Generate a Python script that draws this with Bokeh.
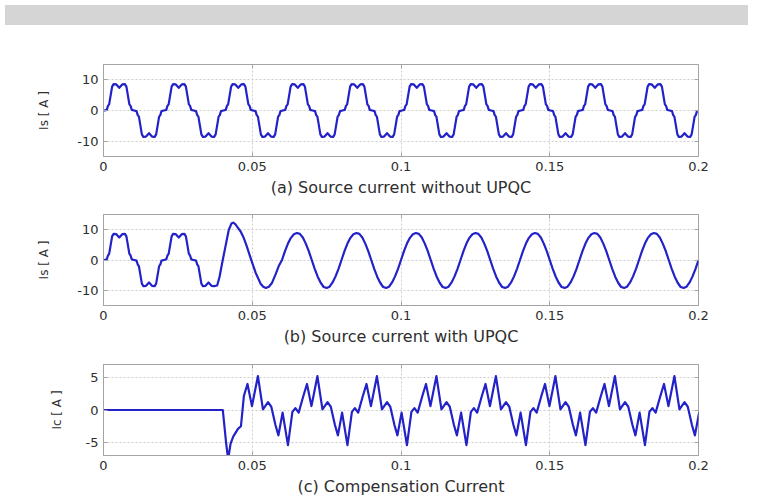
from bokeh.plotting import figure
from bokeh.models import FixedTicker, Range1d, Div, ColumnDataSource, LinearAxis
from bokeh.layouts import column
from bokeh.embed import file_html
from bokeh.resources import INLINE

# ---------------- data ----------------
x_ticks = [0, 0.05, 0.1, 0.15, 0.2]
x_tick_labels = ["0", "0.05", "0.1", "0.15", "0.2"]
is_ticks = [-10, 0, 10]
is_tick_labels = ["-10", "0", "10"]
ic_ticks = [-5, 0, 5]
ic_tick_labels = ["-5", "0", "5"]
titles = ["(a) Source current without UPQC",
          "(b) Source current with UPQC",
          "(c) Compensation Current"]
y_labels = ["Is [ A ]", "Is [ A ]", "Ic [ A ]"]

# (a) distorted load current: one half cycle, measured from the centre of a zero ledge
half_period = 0.01
first_ledge = 0.0003
n_halves = 20
load_half_offset = [0.0000, 0.0008, 0.0012, 0.0016, 0.0026, 0.0031, 0.0040,
                    0.0050, 0.0060, 0.0069, 0.0074, 0.0084, 0.0088, 0.0092]
load_half_value = [0.0, 0.2, 1.5, 2.0, 7.8, 8.6, 8.5,
                   7.4, 8.5, 8.6, 7.8, 2.0, 1.5, 0.2]

# (b) source current with UPQC: load current until switch-on, transient, then sinusoid
b_switch_time = 0.0373
b_transient_t = [0.0382, 0.0390, 0.0399, 0.0410, 0.0421, 0.0430, 0.0436, 0.0443,
                 0.0452, 0.0461, 0.0470, 0.0480, 0.0494, 0.0511, 0.0528, 0.0537,
                 0.0546, 0.0556, 0.0566, 0.0578, 0.0590]
b_transient_v = [-8.4, -5.6, -0.9, 4.5, 9.9, 12.0, 12.3, 11.8,
                 10.6, 9.4, 7.6, 5.0, 0.8, -4.1, -7.8, -8.8,
                 -9.2, -8.8, -7.6, -4.8, -1.8]
b_steady_start = 0.06
b_cycle_step = 0.001
n_b_cycles = 7
b_cycle_v = [0.0, 2.9, 5.4, 7.3, 8.5, 8.9, 8.6, 7.4, 5.4, 2.9,
             0.0, -2.9, -5.5, -7.5, -8.9, -9.2, -8.8, -7.4, -5.4, -2.9]
b_end_v = 0.0

# (c) compensation current: zero until switch-on, transient, then repeating cycle
period = 0.02
c_transient_t = [0.0, 0.0401, 0.0412, 0.0419, 0.0427, 0.0436, 0.0452, 0.0462]
c_transient_v = [0.0, 0.0, -5.0, -7.6, -5.2, -4.1, -2.9, -2.5]
c_steady_from = 0.0470
c_first_cycle, c_last_cycle = 2, 10
c_cycle_phase = [0.0002, 0.0020, 0.0035, 0.0045, 0.0056, 0.0072, 0.0084,
                 0.0099, 0.0119, 0.0136, 0.0153, 0.0164, 0.0178, 0.0188]
c_cycle_value = [-0.4, -5.4, -0.3, 0.3, -0.4, 2.2, 4.0,
                 0.6, 5.2, 0.1, 1.2, 0.5, -2.3, -3.9]

# ---------------- build series ----------------
ta, va = [0.0], [0.0]
for k in range(n_halves):
    sgn = 1 if k % 2 == 0 else -1
    for o, a in zip(load_half_offset, load_half_value):
        ta.append(first_ledge + k * half_period + o)
        va.append(sgn * a)

tb = [t for t in ta if t <= b_switch_time]
vb = [v for t, v in zip(ta, va) if t <= b_switch_time]
tb += b_transient_t
vb += b_transient_v
for j in range(n_b_cycles):
    for i, val in enumerate(b_cycle_v):
        tb.append(b_steady_start + j * period + i * b_cycle_step)
        vb.append(val)
tb.append(0.2)
vb.append(b_end_v)

tc, vc = list(c_transient_t), list(c_transient_v)
for k in range(c_first_cycle, c_last_cycle + 1):
    for ph, val in zip(c_cycle_phase, c_cycle_value):
        t = k * period + ph
        if t >= c_steady_from:
            tc.append(t)
            vc.append(val)

# ---------------- styling ----------------
FONT = "DejaVu Sans"
TXT = "#2e2e2e"
GREY = "#a4a4a4"
LINE = "#2222c8"


def make_fig(height, top, bottom, ylab_standoff, yr, yt, ylabs, ylab, title, t, v):
    p = figure(width=743, height=height, x_range=Range1d(0, 0.2), y_range=Range1d(*yr),
               output_backend="svg", toolbar_location=None,
               min_border_left=103, min_border_right=45,
               min_border_top=top, min_border_bottom=bottom)
    p.background_fill_color = "white"
    p.border_fill_color = "white"
    p.outline_line_color = GREY
    p.outline_line_width = 1

    xt = FixedTicker(ticks=x_ticks)
    ytk = FixedTicker(ticks=yt)
    xa = p.xaxis[0]
    ya = p.yaxis[0]
    xa.ticker = xt
    ya.ticker = ytk
    p.xgrid.ticker = xt
    p.ygrid.ticker = ytk
    xa.major_label_overrides = dict(zip(x_ticks, x_tick_labels))
    ya.major_label_overrides = dict(zip(yt, ylabs))
    for ax in (xa, ya):
        ax.major_label_text_font = FONT
        ax.major_label_text_font_size = "13px"
        ax.major_label_text_color = TXT
        ax.major_label_standoff = 5
        ax.major_tick_in = 4
        ax.major_tick_out = 0
        ax.minor_tick_line_color = None
        ax.major_tick_line_color = GREY
        ax.axis_line_color = GREY
        ax.axis_label_text_font = FONT
        ax.axis_label_text_font_style = "normal"
        ax.axis_label_text_color = TXT
    xa.axis_label = title
    xa.axis_label_text_font_size = "16px"
    xa.axis_label_standoff = 4
    ya.axis_label = ylab
    ya.axis_label_text_font_size = "12px"
    ya.axis_label_standoff = ylab_standoff

    # tick marks (no labels) on the top and right edges of the box
    for loc, tk in (("above", xt), ("right", ytk)):
        ax = LinearAxis(ticker=tk, major_label_text_color=None,
                        major_label_text_font_size="1px", major_label_standoff=0,
                        major_tick_in=4, major_tick_out=0,
                        major_tick_line_color=GREY, minor_tick_line_color=None,
                        axis_line_color=None)
        p.add_layout(ax, loc)

    for g in (p.xgrid[0], p.ygrid[0]):
        g.grid_line_color = "#cdcdcd"
        g.grid_line_dash = "2 2"
        g.grid_line_width = 1

    src = ColumnDataSource(data=dict(t=t, v=v))
    p.line("t", "v", source=src, line_color=LINE, line_width=2.2, line_join="round")
    return p


band = Div(text="", width=743, height=20, styles={"background-color": "#d5d5d5"})
p1 = make_fig(169, 34, 39, 23, (-15, 15), is_ticks, is_tick_labels, y_labels[0], titles[0], ta, va)
p2 = make_fig(149, 15, 39, 23, (-15, 15), is_ticks, is_tick_labels, y_labels[1], titles[1], tb, vb)
p3 = make_fig(150, 16, 39, 19, (-7, 7), ic_ticks, ic_tick_labels, y_labels[2], titles[2], tc, vc)

layout = column(band, p1, p2, p3)
html = file_html(layout, INLINE)
html = html.replace("</head>", "<style>html, body {overflow: hidden;}</style></head>")
open("out.html", "w").write(html)
